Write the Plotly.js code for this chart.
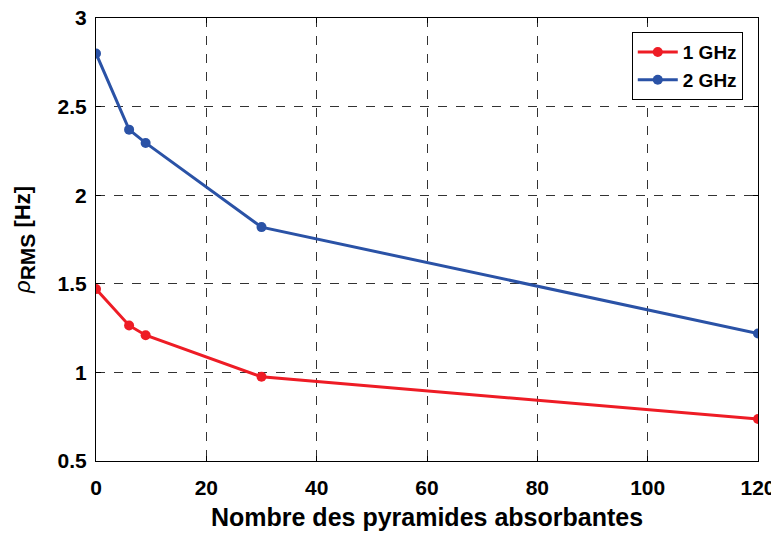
<!DOCTYPE html>
<html>
<head>
<meta charset="utf-8">
<script src="https://cdn.plot.ly/plotly-3.0.1.min.js"></script>
<style>html,body{margin:0;padding:0;background:#fff;}#chart{width:771px;height:533px;}</style>
</head>
<body>
<div id="chart"></div>
<script>
const pyramides = [0, 6, 9, 30, 120];
const rms1GHz = [1.47, 1.265, 1.21, 0.975, 0.737];
const rms2GHz = [2.80, 2.37, 2.295, 1.82, 1.22];
const xTicks = [0, 20, 40, 60, 80, 100, 120];
const yTicks = [0.5, 1, 1.5, 2, 2.5, 3];
const seriesNames = ['1 GHz', '2 GHz'];

const font = 'Liberation Sans, Arial, sans-serif';
const traces = [
  {x: pyramides, y: rms1GHz, name: seriesNames[0], mode: 'lines+markers',
   line: {color: '#ee1c25', width: 3}, marker: {color: '#ee1c25', size: 10}},
  {x: pyramides, y: rms2GHz, name: seriesNames[1], mode: 'lines+markers',
   line: {color: '#2a52a6', width: 3}, marker: {color: '#2a52a6', size: 10}}
];
const axisCommon = {
  showline: true, linecolor: '#000', linewidth: 1, mirror: 'ticks',
  ticks: 'inside', ticklen: 5, tickcolor: '#000',
  showgrid: true, gridcolor: '#333', griddash: 'dash', gridwidth: 1,
  zeroline: false, ticklabeloverflow: 'allow',
  tickfont: {family: font, size: 21, color: '#000', weight: 'bold'}
};
const layout = {
  width: 771, height: 533,
  margin: {l: 96, r: 13, t: 18, b: 72},
  paper_bgcolor: '#fff', plot_bgcolor: '#fff',
  showlegend: true,
  legend: {x: 0.977, y: 0.968, xanchor: 'right', yanchor: 'top',
    bgcolor: '#fff', bordercolor: '#000', borderwidth: 1,
    font: {family: font, size: 19, color: '#000', weight: 'bold'},
    tracegroupgap: 0, itemwidth: 40},
  xaxis: Object.assign({}, axisCommon, {
    range: [0, 120], tickvals: xTicks, ticktext: xTicks.map(v => '<b>' + v + '</b>'),
    automargin: false, ticklabelstandoff: 8,
    title: {text: '<b>Nombre des pyramides absorbantes</b>', standoff: 10,
      font: {family: font, size: 25, color: '#000', weight: 'bold'}}
  }),
  yaxis: Object.assign({}, axisCommon, {
    range: [0.5, 3], tickvals: yTicks, ticktext: yTicks.map(v => '<b>' + v + '</b>'),
    automargin: false, ticklabelstandoff: 4,
    title: {text: '<span style="font-weight:normal"><i>ρ</i></span><sub><b><span style="font-size:21px">RMS</span></b></sub><b> [Hz]</b>', standoff: 20,
      font: {family: font, size: 22, color: '#000', weight: 'bold'}}
  })
};
Plotly.newPlot('chart', traces, layout, {staticPlot: true, displayModeBar: false});
</script>
</body>
</html>
